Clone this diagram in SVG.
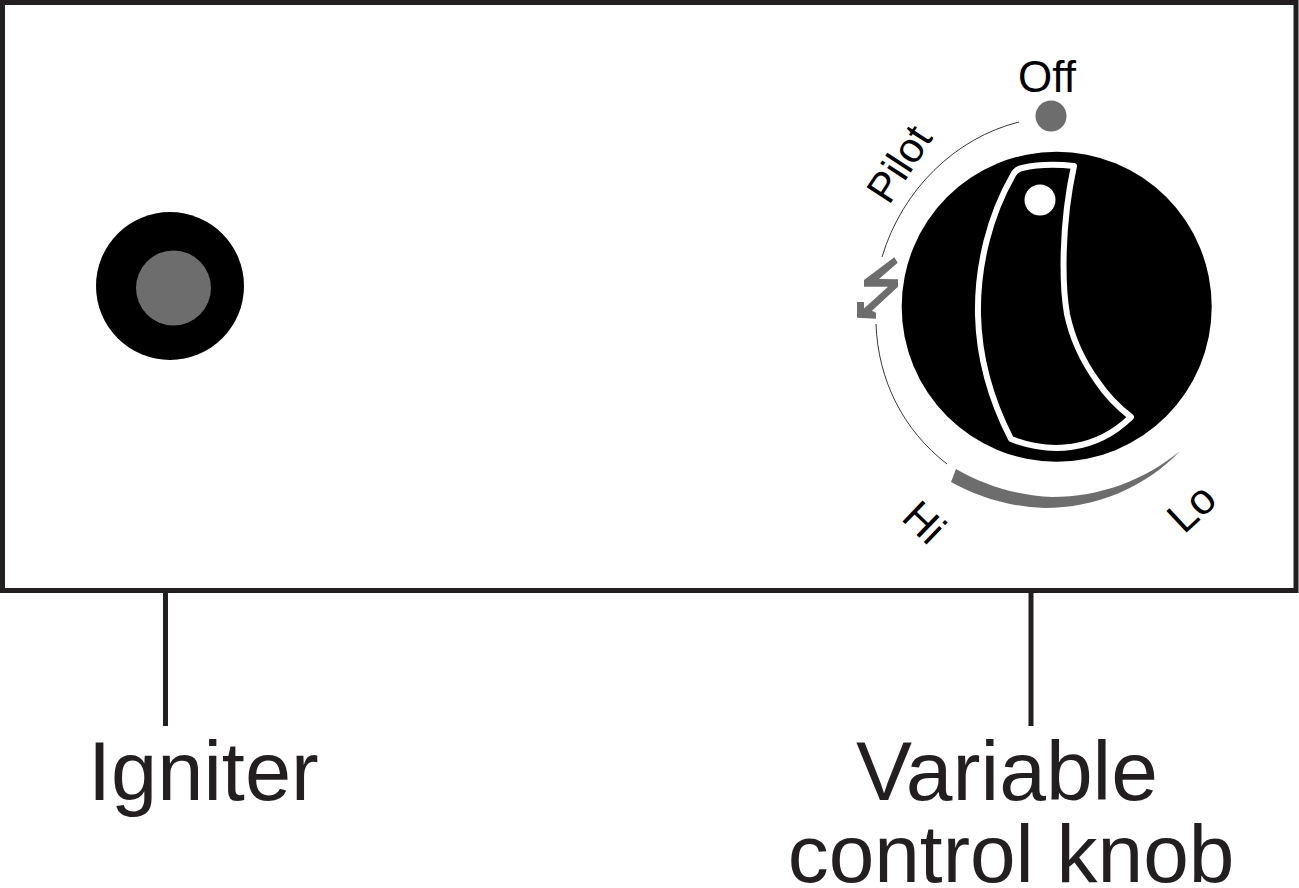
<svg xmlns="http://www.w3.org/2000/svg" width="1299" height="888" viewBox="0 0 1299 888">
<style>
text{font-family:"Liberation Sans",Arial,sans-serif}
.lab{font-size:83px;fill:#231f20}
.dial{font-size:46px;fill:#000}
.grey{fill:#6d6d6d}
.thin{fill:none;stroke:#222;stroke-width:.9}
.lead{fill:none;stroke:#231f20;stroke-width:5}
</style>
<rect width="1299" height="888" fill="#fff"/>
<g id="panel"><rect x="2.500" y="2.500" width="1293.500" height="588" fill="none" stroke="#231f20" stroke-width="5"/></g>
<g id="igniter">
<circle cx="170" cy="286" r="74" fill="#000"/>
<circle cx="173.500" cy="288" r="37.500" class="grey"/>
</g>
<g id="connectors">
<path class="lead" d="M165.500 590V726"/>
<path class="lead" d="M1031 590V726"/>
</g>
<g id="igniter-label"><text class="lab" x="88" y="800">Igniter</text></g>
<g id="knob-label">
<text class="lab" x="1007" y="800" text-anchor="middle" style="font-size:84px">Variable</text>
<text class="lab" x="1011" y="882" text-anchor="middle" style="font-size:82px">control knob</text>
</g>
<g id="knob">
<circle cx="1056.700" cy="306.700" r="155" fill="#000"/>
<path d="M1074 166C1055 164 1035 165 1022 168C1017 169 1015 171 1013 175C990 215 977 265 978 315C979 358 992 402 1011 439C1050 454 1095 452 1131 417C1118 407 1107 396 1097 381C1082 360 1072 338 1067 314C1062 285 1061 225 1074 166Z" fill="none" stroke="#fff" stroke-width="6" stroke-linejoin="round"/>
<circle cx="1040" cy="200" r="15.500" fill="#fff"/>
</g>
<g id="scale">
<path class="thin" d="M1019 122C955 138 902 190 882 257"/>
<path class="thin" d="M876 324C878 380 903 430 947 464"/>
<path class="grey" d="M956 469C985 486 1020 496 1052 497C1100 497 1145 480 1180 451C1145 488 1095 508 1045 508C1010 507 978 497 951 482Z"/>
<path class="grey" d="M894.300 257.300L897.700 262.700L879 279L898 279.300V286.700L872 310.700L876 312.700V318.700L857 317.700V302H864V308.500L888 286.700H864V280Z"/>
<circle cx="1051" cy="116" r="15.500" class="grey"/>
</g>
<g id="dial-labels">
<text class="dial" x="1018" y="92" style="font-size:44px">Off</text>
<text class="dial" transform="translate(889 206) rotate(-57)" style="font-size:42px">Pilot</text>
<text class="dial" transform="translate(900 519) rotate(44)" style="font-size:42px">Hi</text>
<text class="dial" transform="translate(1184 535) rotate(-43)" style="font-size:43px">Lo</text>
</g>
</svg>
